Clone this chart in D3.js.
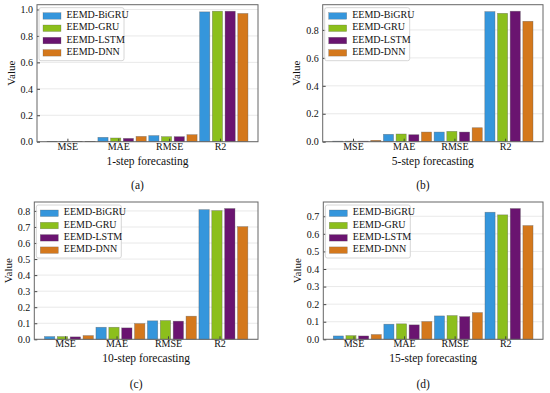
<!DOCTYPE html>
<html><head><meta charset="utf-8">
<script src="https://cdn.jsdelivr.net/npm/d3@7"></script>
<style>body{margin:0;background:#fff}svg{display:block}</style>
</head><body>
<svg id="c" width="550" height="393" font-family="Liberation Serif, Times New Roman, serif"></svg>
<script>
const metrics = ["MSE", "MAE", "RMSE", "R2"];
const models = ["EEMD-BiGRU", "EEMD-GRU", "EEMD-LSTM", "EEMD-DNN"];
const colors = ["#3596dc", "#8cbf1c", "#6a1470", "#d4781c"];

// values[model][metric]
const step1 = [
  [0.001, 0.033, 0.046, 0.982],
  [0.001, 0.028, 0.038, 0.987],
  [0.001, 0.025, 0.038, 0.987],
  [0.002, 0.040, 0.053, 0.970]
];
const step5 = [
  [0.004, 0.053, 0.069, 0.931],
  [0.004, 0.055, 0.074, 0.919],
  [0.004, 0.050, 0.069, 0.934],
  [0.010, 0.069, 0.100, 0.862]
];
const step10 = [
  [0.017, 0.075, 0.115, 0.808],
  [0.017, 0.075, 0.117, 0.802],
  [0.015, 0.071, 0.113, 0.815],
  [0.023, 0.098, 0.144, 0.702]
];
const step15 = [
  [0.019, 0.086, 0.133, 0.723],
  [0.021, 0.088, 0.135, 0.708],
  [0.019, 0.082, 0.129, 0.744],
  [0.027, 0.101, 0.152, 0.647]
];
const ticksA = [0, 0.2, 0.4, 0.6, 0.8, 1.0];
const ticksB = [0, 0.2, 0.4, 0.6, 0.8];
const ticksC = [0, 0.1, 0.2, 0.3, 0.4, 0.5, 0.6, 0.7, 0.8];
const ticksD = [0, 0.1, 0.2, 0.3, 0.4, 0.5, 0.6, 0.7];
const xTitles = ["1-step forecasting", "5-step forecasting", "10-step forecasting", "15-step forecasting"];
const panelLabels = ["(a)", "(b)", "(c)", "(d)"];

const panels = [
  {data: step1, ticks: ticksA, ox: 0, oy: 0, l: 37, r: 258, t: 4.7, b: 141.7, xt: 162, pl: 186},
  {data: step5, ticks: ticksB, ox: 275, oy: 0, l: 47.7, r: 268, t: 4.7, b: 141.7, xt: 162, pl: 186},
  {data: step10, ticks: ticksC, ox: 0, oy: 196, l: 34.3, r: 258, t: 6, b: 143.3, xt: 163.5, pl: 189},
  {data: step15, ticks: ticksD, ox: 275, oy: 196, l: 48.3, r: 268, t: 6, b: 143.3, xt: 163.5, pl: 189}
];

const FONT = "Liberation Serif";
const svg = d3.select("#c");
const bw = 0.2, step = 0.25;

panels.forEach((p, pi) => {
  const g = svg.append("g").attr("transform", `translate(${p.ox},${p.oy})`);
  const maxV = d3.max(p.data.flat());
  const minX = -bw / 2, maxX = (metrics.length - 1) + (models.length - 1) * step + bw / 2;
  const mx = (maxX - minX) * 0.05;
  const x = d3.scaleLinear().domain([minX - mx, maxX + mx]).range([p.l, p.r]);
  const y = d3.scaleLinear().domain([0, maxV * 1.05]).range([p.b, p.t]);

  // grid
  g.append("g").selectAll("line").data(p.ticks).join("line")
    .attr("x1", p.l).attr("x2", p.r)
    .attr("y1", d => y(d)).attr("y2", d => y(d))
    .attr("stroke", "#e3e3e3").attr("stroke-width", 0.8);

  // bars
  models.forEach((m, mi) => {
    g.append("g").selectAll("rect").data(metrics).join("rect")
      .attr("x", (d, i) => x(i + mi * step - bw / 2))
      .attr("width", x(bw) - x(0))
      .attr("y", (d, i) => y(p.data[mi][i]))
      .attr("height", (d, i) => y(0) - y(p.data[mi][i]))
      .attr("fill", colors[mi])
      .attr("stroke", "#555").attr("stroke-opacity", 0.55).attr("stroke-width", 0.6);
  });

  // y axis
  const ya = d3.axisLeft(y).tickValues(p.ticks).tickFormat(d3.format(".1f")).tickSizeInner(-3).tickSizeOuter(0).tickPadding(4);
  const yg = g.append("g").attr("transform", `translate(${p.l},0)`).call(ya);
  yg.attr("font-family", FONT).attr("font-size", 10);
  yg.select(".domain").remove();
  yg.selectAll("line").attr("stroke", "#444");
  yg.selectAll("text").attr("fill", "#111");

  // x axis
  const xa = d3.axisBottom(x).tickValues(metrics.map((d, i) => i + 0.3)).tickFormat((d, i) => metrics[i]).tickSizeInner(-3).tickSizeOuter(0).tickPadding(1);
  const xg = g.append("g").attr("transform", `translate(0,${p.b})`).call(xa);
  xg.attr("font-family", FONT).attr("font-size", 10);
  xg.select(".domain").remove();
  xg.selectAll("line").attr("stroke", "#444");
  xg.selectAll("text").attr("fill", "#111");

  // frame
  g.append("rect").attr("x", p.l).attr("y", p.t).attr("width", p.r - p.l).attr("height", p.b - p.t)
    .attr("fill", "none").attr("stroke", "#666").attr("stroke-width", 1);

  // y label
  g.append("text").attr("transform", `translate(${p.l - 25},${(p.t + p.b) / 2}) rotate(-90)`)
    .attr("text-anchor", "middle").attr("dominant-baseline", "middle")
    .attr("font-family", FONT).attr("font-size", 11).attr("fill", "#111").text("Value");

  // x title
  g.append("text").attr("x", (p.l + p.r) / 2).attr("y", p.xt).attr("text-anchor", "middle")
    .attr("dominant-baseline", "middle").attr("font-family", FONT).attr("font-size", 11.5).attr("fill", "#111").text(xTitles[pi]);
  g.append("text").attr("x", (p.l + p.r) / 2 - 10).attr("y", p.pl).attr("text-anchor", "middle")
    .attr("dominant-baseline", "middle").attr("font-family", FONT).attr("font-size", 11.5).attr("fill", "#111").text(panelLabels[pi]);

  // legend
  const lg = g.append("g").attr("transform", `translate(${p.l + 2},${p.t + 3})`);
  lg.append("rect").attr("width", 85).attr("height", 53).attr("rx", 2)
    .attr("fill", "#fff").attr("fill-opacity", 0.85).attr("stroke", "#ccc").attr("stroke-width", 0.8);
  models.forEach((m, mi) => {
    const yy = 8 + mi * 12.3;
    lg.append("rect").attr("x", 4).attr("y", yy - 3).attr("width", 18).attr("height", 6.5)
      .attr("fill", colors[mi]).attr("stroke", "#555").attr("stroke-opacity", 0.5).attr("stroke-width", 0.5);
    lg.append("text").attr("x", 27.5).attr("y", yy).attr("dominant-baseline", "middle")
      .attr("font-family", FONT).attr("font-size", 10).attr("fill", "#111").text(m);
  });
});
</script>
</body></html>
